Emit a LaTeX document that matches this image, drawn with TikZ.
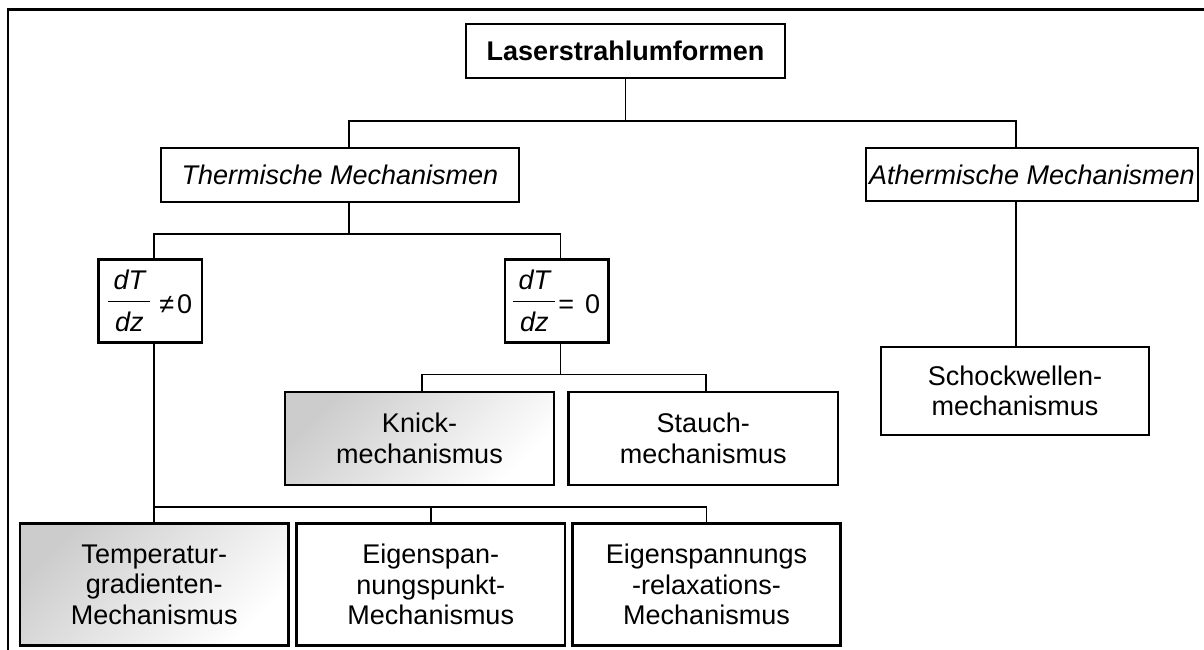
\documentclass[tikz,border=0pt]{standalone}
\usepackage{fontspec}
\setmainfont{Liberation Sans}
\newcommand{\fracdTdz}{\raise6pt\hbox{$\vcenter{\hbox to 42pt{\hss\itshape dT\hss}\kern11pt\hrule height 1.5pt\kern10pt\hbox to 42pt{\hss\itshape dz\hss}}$}}
\tikzset{
  box/.style={draw, line width=2.2pt, inner sep=0pt, align=center, fill=white,
    font=\fontsize{27}{30.5}\selectfont},
  con/.style={line width=1.8pt},
  grad/.style={top color=gray!40, bottom color=white, shading angle=45}
}
\begin{document}
\begin{tikzpicture}[x=1pt,y=-1pt]
\useasboundingbox (0,0) rectangle (1204,650);
% frame
\coordinate (fa) at (8.3,650);
\coordinate (fb) at (8.3,9.5);
\coordinate (fc) at (1204,9.5);
\draw[line width=2.2pt] (fa) -- (fb) -- (fc);
% nodes
\node[box, minimum width=319pt, minimum height=54pt] (L) at (625.5,51) {\bfseries Laserstrahlumformen};
\node[box, minimum width=358pt, minimum height=54pt] (T) at (340,175) {\itshape Thermische Mechanismen};
\node[box, minimum width=332pt, minimum height=53pt] (A) at (1032,174.5) {\itshape Athermische Mechanismen};
\node[box, minimum width=103.5pt, minimum height=83pt] (F1) at (150.25,301) {\fracdTdz\hspace{9pt}≠\hspace{3pt}0};
\node[box, minimum width=103.5pt, minimum height=83pt] (F2) at (556.75,301) {\fracdTdz\hspace{3pt}=\hspace{11pt}0};
\node[box, grad, minimum width=269pt, minimum height=93pt] (K) at (419.5,438.5) {Knick-\\mechanismus};
\node[box, minimum width=269.5pt, minimum height=93pt] (S) at (703.25,438.5) {Stauch-\\mechanismus};
\node[box, minimum width=268pt, minimum height=88pt] (SW) at (1015,391) {Schockwellen-\\mechanismus};
\node[box, grad, minimum width=268.5pt, minimum height=122pt] (TG) at (154.25,584.5) {Temperatur-\\gradienten-\\Mechanismus};
\node[box, minimum width=268.5pt, minimum height=122pt] (EP) at (430.75,584.5) {Eigenspan-\\nungspunkt-\\Mechanismus};
\node[box, minimum width=268pt, minimum height=122pt] (ER) at (706.5,584.5) {Eigenspannungs\\-relaxations-\\Mechanismus};
% junctions
\coordinate (tx) at (349,121);
\coordinate (ax) at (1016,121);
\coordinate (j2a) at (349,234);
\coordinate (j2b) at (154.3,234);
\coordinate (j2c) at (560.5,234);
\coordinate (j3a) at (154.3,507.3);
\coordinate (j3b) at (430.7,507.3);
\coordinate (j3c) at (706.5,507.3);
\coordinate (j4a) at (560.5,374.5);
\coordinate (j4b) at (421.7,374.5);
\coordinate (j4c) at (705.7,374.5);
% connectors
\draw[con] (L.south) -- (L.south |- tx);
\draw[con] (T.north -| tx) -- (tx) -- (ax) -- (A.north -| ax);
\draw[con] (T.south -| j2a) -- (j2a);
\draw[con] (F1.north -| j2b) -- (j2b) -- (j2c) -- (F2.north -| j2c);
\draw[con] (F1.south -| j3a) -- (TG.north -| j3a);
\draw[con] (j3a) -- (j3c) -- (ER.north -| j3c);
\draw[con] (j3b) -- (EP.north -| j3b);
\draw[con] (F2.south -| j4a) -- (j4a);
\draw[con] (K.north -| j4b) -- (j4b) -- (j4c) -- (S.north -| j4c);
\draw[con] (A.south -| ax) -- (SW.north -| ax);
\end{tikzpicture}
\end{document}
